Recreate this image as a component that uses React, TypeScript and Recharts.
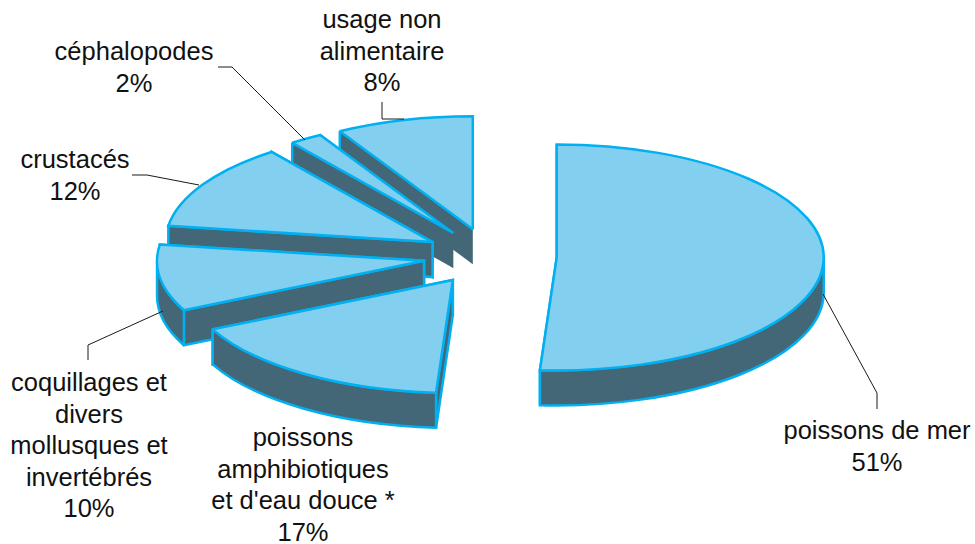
import React from "react";
import { PieChart, Pie } from "recharts";

// Data, listed back-to-front so that nearer slices paint over farther ones.
const CATEGORIES = [
  "usage non alimentaire",
  "céphalopodes",
  "crustacés",
  "coquillages et divers mollusques et invertébrés",
  "poissons amphibiotiques et d'eau douce *",
  "poissons de mer",
];
const VALUES = [8.3, 2.0, 12.4, 9.5, 16.8, 51.0];
const LABEL_LINES = [
  ["usage non", "alimentaire"],
  ["céphalopodes"],
  ["crustacés"],
  ["coquillages et", "divers", "mollusques et", "invertébrés"],
  ["poissons", "amphibiotiques", "et d'eau douce *"],
  ["poissons de mer"],
];

// Layout
const LABEL_X = [382, 134, 75, 89, 303, 877];
const LABEL_BASELINE = [28, 60, 168, 391, 446, 439];
const LEADERS = [
  "404,119 382,119 382,102",
  "305,140 232,67 218,67",
  "199,185 147,175 132,175",
  "163,311 88,345 88,360",
  "",
  "823,294 877,393 877,409",
];
const WALL_OUTLINED = [false, false, true, true, true, true];
const CX = 490;
const CY = 256.5;
const RX = 267;
const RY = 113;
const DEPTH = 35;
const EXPLODE = 0.25;
const LINE_HEIGHT = 31.5;
const STROKE = 2.5;
const FONT = "'Liberation Sans', Arial, sans-serif";
const TOP = "#83CFF0";
const WALL = "#446777";
const EDGE = "#00B0F0";

const chartData = CATEGORIES.map((name, i) => ({ name, value: VALUES[i] }));

const rad = (d: number) => (d * Math.PI) / 180;

function Slice3D(props: any) {
  const { startAngle, endAngle, midAngle, name } = props;
  const mid = midAngle ?? (startAngle + endAngle) / 2;
  const outlined = WALL_OUTLINED[CATEGORIES.indexOf(name)];
  const ax = CX + EXPLODE * RX * Math.cos(rad(mid));
  const ay = CY - EXPLODE * RY * Math.sin(rad(mid));
  const pt = (a: number): [number, number] => [
    ax + RX * Math.cos(rad(a)),
    ay - RY * Math.sin(rad(a)),
  ];
  const [x0, y0] = pt(startAngle);
  const [x1, y1] = pt(endAngle);
  const large = endAngle - startAngle > 180 ? 1 : 0;
  const top = `M${ax},${ay} L${x0},${y0} A${RX},${RY} 0 ${large} 0 ${x1},${y1} Z`;

  const wall = (px: number, py: number) =>
    `M${ax},${ay} L${px},${py} L${px},${py + DEPTH} L${ax},${ay + DEPTH} Z`;
  const wallStroke = outlined ? EDGE : "none";

  const a0 = Math.max(startAngle, 180);
  const a1 = Math.min(endAngle, 360);
  let outer = "";
  if (a1 > a0) {
    const [p0x, p0y] = pt(a0);
    const [p1x, p1y] = pt(a1);
    outer =
      `M${p0x},${p0y} A${RX},${RY} 0 0 0 ${p1x},${p1y} ` +
      `L${p1x},${p1y + DEPTH} A${RX},${RY} 0 0 1 ${p0x},${p0y + DEPTH} Z`;
  }
  return (
    <g strokeLinejoin="miter" strokeMiterlimit={2}>
      <path d={wall(x0, y0)} fill={WALL} stroke={wallStroke} strokeWidth={STROKE} />
      <path d={wall(x1, y1)} fill={WALL} stroke={wallStroke} strokeWidth={STROKE} />
      {!outlined && (
        <line x1={x1} y1={y1} x2={x1} y2={y1 + DEPTH} stroke={EDGE} strokeWidth={STROKE} />
      )}
      {outer && <path d={outer} fill={WALL} stroke={EDGE} strokeWidth={STROKE} />}
      <path d={top} fill={TOP} stroke={EDGE} strokeWidth={STROKE} />
    </g>
  );
}

function SliceLabel(props: any) {
  const i: number = props.index;
  const lines = [...LABEL_LINES[i], `${Math.round(VALUES[i])}%`];
  return (
    <g>
      {LEADERS[i] && (
        <polyline points={LEADERS[i]} fill="none" stroke="#1a1a1a" strokeWidth={1} />
      )}
      <text textAnchor="middle" fontFamily={FONT} fontSize={25.5} fill="#111111">
        {lines.map((line, k) => (
          <tspan key={k} x={LABEL_X[i]} y={LABEL_BASELINE[i] + k * LINE_HEIGHT}>
            {line}
          </tspan>
        ))}
      </text>
    </g>
  );
}

export default function App() {
  return (
    <div style={{ position: "fixed", left: 0, top: 0, width: 975, height: 544, background: "#fff" }}>
      <PieChart width={975} height={544} margin={{ top: 0, right: 0, bottom: 0, left: 0 }}>
        <Pie
          data={chartData}
          dataKey="value"
          nameKey="name"
          cx={CX}
          cy={CY}
          innerRadius={0}
          outerRadius={RX}
          startAngle={90}
          endAngle={450}
          paddingAngle={0}
          stroke="none"
          isAnimationActive={false}
          shape={Slice3D}
          label={SliceLabel}
          labelLine={false}
        />
      </PieChart>
    </div>
  );
}
